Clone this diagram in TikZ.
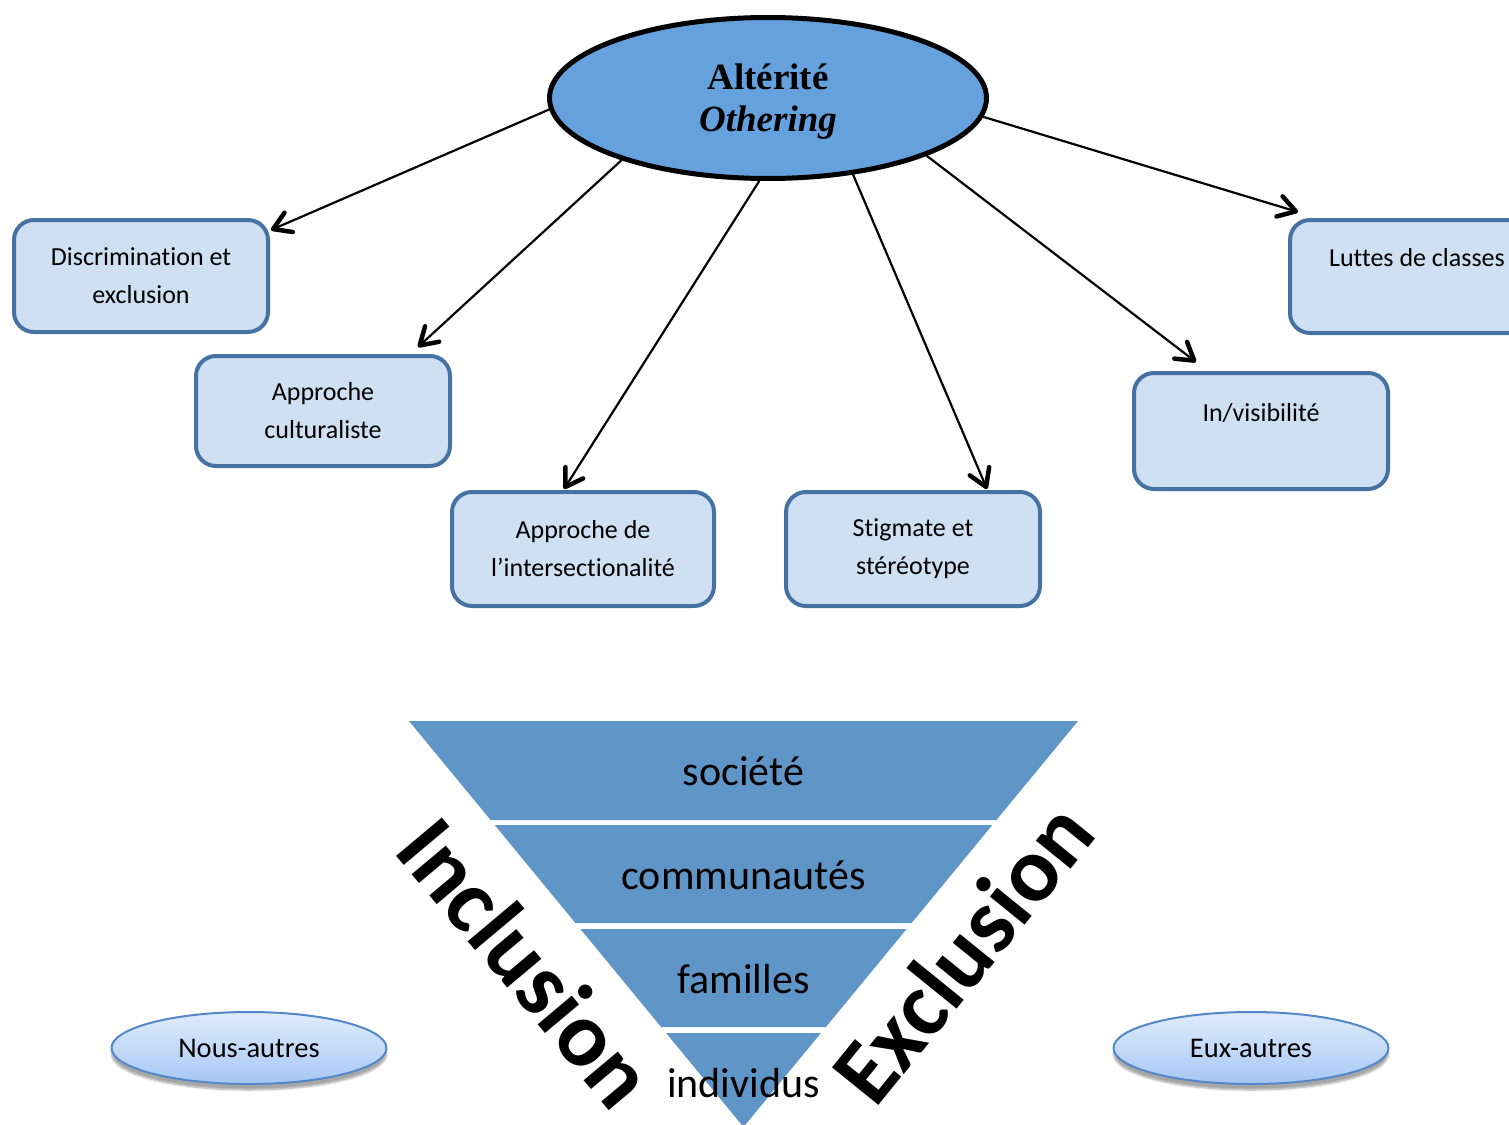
\documentclass[tikz,border=0pt]{standalone}
\usepackage{fontspec}
\setmainfont{Carlito}[Ligatures={NoCommon,NoRequired,NoContextual,NoRare}, Contextuals=NoAlternate]
\newfontfamily\titlefont{Liberation Serif}
\usetikzlibrary{arrows.meta,shapes.geometric,shadows.blur,calc}

\definecolor{coreblue}{RGB}{101,161,221}
\definecolor{boxfill}{RGB}{207,224,242}
\definecolor{boxedge}{RGB}{70,113,163}
\definecolor{tierblue}{RGB}{96,149,200}
\definecolor{ovaltop}{RGB}{224,236,252}
\definecolor{ovalbottom}{RGB}{166,199,243}
\definecolor{ovaledge}{RGB}{84,135,200}

\begin{document}
\begin{tikzpicture}[x=1pt,y=-1pt,
  topic/.style={draw=boxedge, fill=boxfill, line width=4pt, rounded corners=20pt,
    minimum width=254pt, minimum height=112pt, align=center, inner sep=0pt,
    font=\fontsize{26}{38}\selectfont},
  link/.style={line width=2.2pt, -{Straight Barb[length=17pt,width=21pt,line width=4.5pt 0,round]}},
  tier/.style={font=\fontsize{42}{50}\selectfont, inner sep=0pt},
  pole/.style={ellipse, draw=ovaledge, line width=2pt, top color=ovaltop, bottom color=ovalbottom,
    minimum width=275pt, minimum height=72pt, inner sep=0pt, font=\fontsize{28.5}{32}\selectfont,
    blur shadow={shadow xshift=0pt, shadow yshift=-6pt, shadow opacity=35, shadow blur steps=6}},
  wordart/.style={font={\bfseries\fontsize{92}{92}\selectfont}, inner sep=0pt, anchor=base},
]
\useasboundingbox (0,0) rectangle (1509,1124);

% central concept
\node[ellipse, draw=black, line width=5pt, fill=coreblue, minimum width=437pt, minimum height=161pt,
  inner sep=0pt, text depth=0pt, align=center, font=\titlefont\fontsize{37}{42}\selectfont]
  (core) at (768,98) {\textbf{Altérité}\\\textbf{\textit{Othering}}};

% related notions
\node[topic] (b1) at (141,276) {Discrimination et\\exclusion};
\node[topic, minimum height=110pt] (b2) at (323,411) {Approche\\culturaliste};
\node[topic, minimum width=262pt, minimum height=114pt] (b3) at (583,549) {Approche de\\l’intersectionalité};
\node[topic, minimum height=114pt] (b4) at (913,549) {Stigmate et\\stéréotype};
\node[topic, minimum height=116pt] (b5) at (1261,431) {In/visibilité\\\mbox{}};
\node[topic, minimum height=113pt] (b6) at (1417,276.5) {Luttes de classes\\\mbox{}};

% arrow ends just above the boxes
\coordinate (t1) at (271,230);
\coordinate (t2) at (418,347);
\coordinate (t3) at (564,489);
\coordinate (t4) at (987,489);
\coordinate (t5) at (1196,362);
\coordinate (t6) at (1298,212);

\draw[link] (core.183) -- (t1);
\draw[link] (core.203) -- (t2);
\draw[link] (core.264) -- (t3);
\draw[link] (core.318) -- (t4);
\draw[link] (core.340.6) -- (t5);
\draw[link] (core.355.6) -- (t6);

% inverted pyramid of social levels
\fill[tierblue] (409,721) -- (1078,721) -- (996.4,820) -- (490.6,820) -- cycle;
\fill[tierblue] (494.7,825) -- (992.3,825) -- (911.6,923) -- (575.4,923) -- cycle;
\fill[tierblue] (580.4,929) -- (906.6,929) -- (825.9,1027) -- (661.1,1027) -- cycle;
\fill[tierblue] (666.1,1033) -- (820.9,1033) -- (743.5,1127) -- cycle;

\node[tier] (l1) at (743.5,771) {société};
\node[tier] (l2) at (743.5,875) {communautés};
\node[tier] (l3) at (743.5,979) {familles};
\node[tier] (l4) at (743.5,1083) {individus};

% side captions along the pyramid edges
\node[wordart, rotate=-50] (incl) at (502.5,982.5) {Inclusion};
\node[wordart, rotate=51] (excl) at (987,972.5) {Exclusion};

% groups
\node[pole] (nous) at (249,1048) {Nous-autres};
\node[pole] (eux) at (1251,1048) {Eux-autres};
\end{tikzpicture}
\end{document}
